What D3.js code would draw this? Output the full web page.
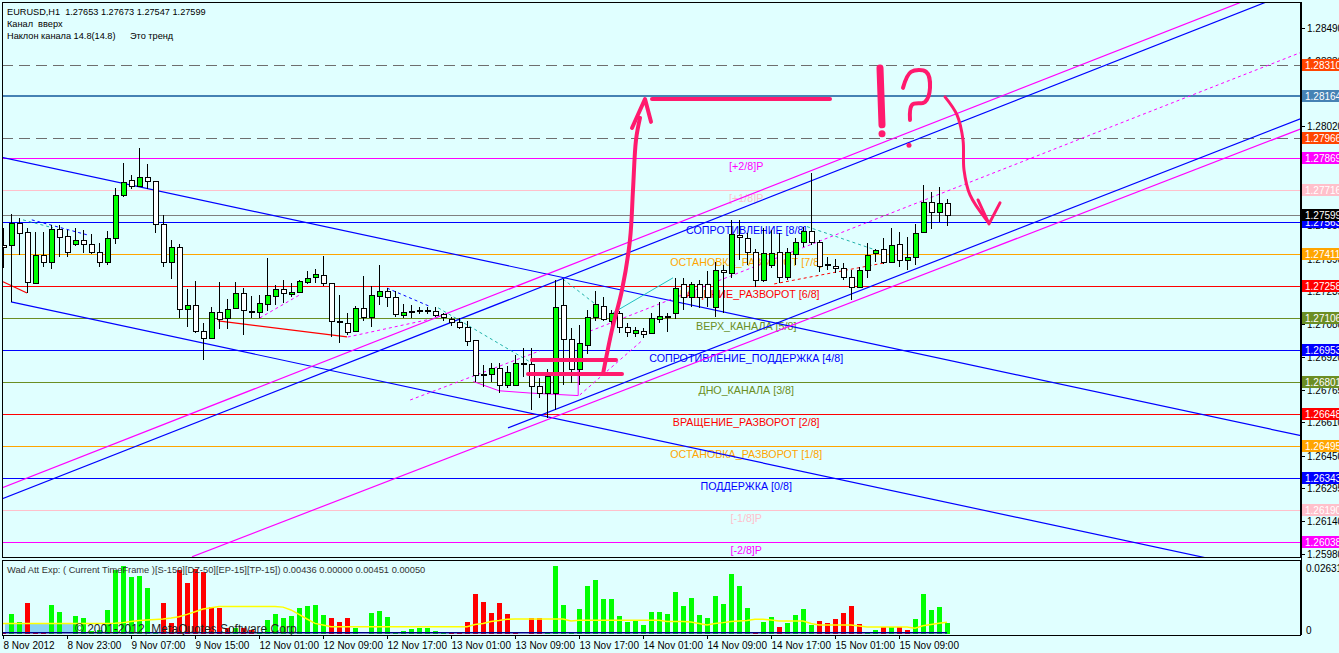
<!DOCTYPE html>
<html><head><meta charset="utf-8">
<script src="https://cdn.jsdelivr.net/npm/d3@7"></script>
<style>
body{margin:0;background:#E0FFFF;overflow:hidden}
svg{display:block;font-family:"Liberation Sans",Arial,sans-serif}
</style></head>
<body><svg id="c" width="1339" height="653"></svg>
<script>
// ---------------- DATA ----------------
const symbolInfo = "EURUSD,H1  1.27653 1.27673 1.27547 1.27599";
const infoLine2 = "Канал  вверх";
const infoLine3a = "Наклон канала 14.8(14.8)";
const infoLine3b = "Это тренд";

const opens = [1.27455,1.27452,1.27558,1.27515,1.27275,1.27407,1.27374,1.27531,1.27499,1.27458,
1.27479,1.27458,1.27420,1.27375,1.27486,1.27693,1.27764,1.27737,1.27777,1.27758,
1.27553,1.27372,1.27447,1.27149,1.27168,1.27047,1.27009,1.27134,1.27106,1.27153,
1.27225,1.27139,1.27134,1.27172,1.27213,1.27245,1.27220,1.27232,1.27280,1.27301,
1.27312,1.27272,1.27091,1.27082,1.27047,1.27153,1.27113,1.27213,1.27236,1.27206,
1.27120,1.27138,1.27143,1.27141,1.27141,1.27125,1.27102,1.27086,1.27065,1.27002,
1.26838,1.26841,1.26868,1.26788,1.26788,1.26891,1.26886,1.26784,1.26748,1.26748,
1.27169,1.27006,1.26863,1.26979,1.27111,1.27165,1.27090,1.27130,1.27063,1.27034,
1.27045,1.27034,1.27101,1.27117,1.27130,1.27268,1.27206,1.27269,1.27268,1.27161,
1.27336,1.27323,1.27502,1.27486,1.27423,1.27288,1.27360,1.27423,1.27301,1.27412,
1.27467,1.27521,1.27467,1.27364,1.27356,1.27343,1.27304,1.27256,1.27336,1.27415,
1.27434,1.27372,1.27458,1.27383,1.27396,1.27515,1.27658,1.27610,1.27653];
const highs = [1.27536,1.27602,1.27583,1.27536,1.27517,1.27518,1.27550,1.27550,1.27526,1.27536,
1.27526,1.27505,1.27463,1.27523,1.27725,1.27847,1.27788,1.27918,1.27841,1.27758,
1.27598,1.27479,1.27458,1.27245,1.27283,1.27085,1.27161,1.27277,1.27196,1.27277,
1.27249,1.27213,1.27217,1.27394,1.27264,1.27288,1.27272,1.27288,1.27331,1.27342,
1.27402,1.27272,1.27217,1.27130,1.27164,1.27307,1.27260,1.27360,1.27249,1.27237,
1.27173,1.27169,1.27161,1.27161,1.27161,1.27130,1.27113,1.27106,1.27094,1.27002,
1.26884,1.26891,1.26893,1.26879,1.26931,1.26964,1.26964,1.26822,1.26864,1.27288,
1.27292,1.27058,1.27074,1.27145,1.27233,1.27209,1.27145,1.27141,1.27085,1.27066,
1.27058,1.27130,1.27185,1.27130,1.27296,1.27296,1.27280,1.27288,1.27331,1.27375,
1.27359,1.27574,1.27574,1.27510,1.27434,1.27534,1.27526,1.27510,1.27439,1.27486,
1.27542,1.27799,1.27479,1.27399,1.27390,1.27367,1.27336,1.27349,1.27463,1.27434,
1.27486,1.27537,1.27518,1.27491,1.27553,1.27740,1.27708,1.27729,1.27673];
const lows = [1.27345,1.27183,1.27407,1.27226,1.27272,1.27350,1.27340,1.27399,1.27398,1.27450,
1.27418,1.27412,1.27349,1.27360,1.27460,1.27682,1.27720,1.27737,1.27720,1.27513,
1.27349,1.27291,1.27106,1.27066,1.27034,1.26907,1.27006,1.27053,1.27053,1.27149,
1.27027,1.27106,1.27106,1.27142,1.27169,1.27177,1.27209,1.27225,1.27268,1.27275,
1.27261,1.27015,1.26987,1.27027,1.27042,1.27090,1.27066,1.27169,1.27161,1.27113,
1.27108,1.27106,1.27126,1.27126,1.27113,1.27090,1.27069,1.27053,1.26974,1.26804,
1.26777,1.26804,1.26749,1.26774,1.26786,1.26827,1.26668,1.26726,1.26630,1.26668,
1.26788,1.26796,1.26788,1.26936,1.27090,1.27094,1.27065,1.27036,1.27015,1.27015,
1.27010,1.27031,1.27082,1.27042,1.27101,1.27145,1.27161,1.27153,1.27161,1.27113,
1.27131,1.27296,1.27384,1.27360,1.27256,1.27280,1.27345,1.27272,1.27288,1.27360,
1.27443,1.27455,1.27328,1.27336,1.27321,1.27288,1.27193,1.27249,1.27296,1.27375,
1.27364,1.27367,1.27351,1.27336,1.27360,1.27515,1.27532,1.27566,1.27547];
const closes = [1.27445,1.27561,1.27513,1.27277,1.27407,1.27374,1.27531,1.27494,1.27423,1.27479,
1.27458,1.27423,1.27375,1.27486,1.27693,1.27756,1.27737,1.27777,1.27758,1.27553,
1.27372,1.27447,1.27149,1.27168,1.27047,1.27009,1.27137,1.27102,1.27149,1.27225,
1.27145,1.27136,1.27177,1.27217,1.27245,1.27225,1.27232,1.27283,1.27296,1.27315,
1.27272,1.27093,1.27090,1.27042,1.27153,1.27113,1.27217,1.27236,1.27206,1.27126,
1.27136,1.27136,1.27141,1.27143,1.27122,1.27109,1.27086,1.27065,1.26999,1.26836,
1.26836,1.26868,1.26788,1.26850,1.26891,1.26889,1.26784,1.26748,1.26832,1.27161,
1.27006,1.26863,1.26987,1.27113,1.27174,1.27101,1.27131,1.27063,1.27042,1.27050,
1.27031,1.27106,1.27118,1.27115,1.27249,1.27206,1.27269,1.27206,1.27209,1.27336,
1.27328,1.27506,1.27491,1.27420,1.27288,1.27418,1.27418,1.27301,1.27423,1.27470,
1.27521,1.27467,1.27355,1.27361,1.27343,1.27304,1.27256,1.27336,1.27407,1.27431,
1.27372,1.27455,1.27383,1.27396,1.27510,1.27658,1.27610,1.27653,1.27599];

// Waddah Attar Explosion values per bar
const wadUp = [0,0.0077,0.0048,0,0,0,0.0112,0.0086,0,0.0070,
0.0061,0.0010,0.0015,0.0093,0.0248,0.0262,0.0222,0.0226,0.0179,0.0007,
0,0,0,0,0,0,0,0,0,0.0022,
0,0,0.0005,0.0054,0.0077,0.0061,0.0070,0.0102,0.0108,0.0112,
0.0074,0,0,0,0.0024,0,0.0082,0.0089,0.0067,0.0003,
0.0012,0.0019,0.0024,0.0024,0.0012,0.0005,0,0,0,0,
0,0,0,0,0,0,0,0,0.0003,0.0263,
0.0112,0.0003,0.0097,0.0186,0.0209,0.0137,0.0137,0.0070,0.0048,0.0052,
0.0035,0.0085,0.0085,0.0077,0.0163,0.0108,0.0139,0.0074,0.0062,0.0147,
0.0116,0.0232,0.0186,0.0101,0,0.0046,0.0066,0,0.0043,0.0074,
0.0097,0.0035,0,0,0,0,0,0,0.0008,0.0016,
0,0.0027,0,0,0.0058,0.0155,0.0093,0.0105,0.00436];
const wadDown = [0.0004,0,0,0.0121,0.0003,0.0009,0,0,0,0,
0,0,0,0,0,0,0,0,0,0,
0.0121,0.0041,0.0248,0.0199,0.0252,0.0239,0.0103,0.0099,0.0022,0,
0.0022,0.0017,0,0,0,0,0,0,0,0,
0,0.0061,0.0048,0.0063,0,0,0,0,0,0,
0,0,0,0,0,0,0.0003,0.0005,0.0048,0.0155,
0.0125,0.0083,0.0121,0.0077,0.0003,0,0.0063,0.0063,0,0,
0,0,0,0,0,0,0,0,0,0,
0,0,0,0,0,0,0,0,0,0,
0,0,0,0,0.0008,0,0,0.0027,0,0,
0,0,0.0050,0.0043,0.0058,0.0081,0.0108,0.0039,0,0,
0.0027,0,0.0027,0.0016,0,0,0,0,0];
const wadExplosion = [0.0041,0.0041,0.0041,0.0041,0.0041,0.0041,0.0041,0.0041,0.0041,0.0041,
0.0041,0.0041,0.0041,0.0041,0.0042,0.0044,0.0048,0.0052,0.0054,0.0056,
0.0058,0.0062,0.0067,0.0076,0.0086,0.0097,0.0102,0.0106,0.0106,0.0106,
0.0106,0.0106,0.0106,0.0106,0.0106,0.0104,0.0093,0.0076,0.0058,0.0041,
0.0035,0.0028,0.0028,0.0028,0.0028,0.0028,0.0028,0.0028,0.0028,0.0028,
0.0028,0.0028,0.0028,0.0028,0.0028,0.0028,0.0028,0.0028,0.0028,0.0037,
0.0041,0.0048,0.0052,0.0057,0.0058,0.0058,0.0058,0.0058,0.0058,0.0058,
0.0058,0.0050,0.0053,0.0053,0.0053,0.0053,0.0053,0.0053,0.0053,0.0053,
0.0053,0.0053,0.0053,0.0048,0.0048,0.0048,0.0046,0.0041,0.0035,0.0041,
0.0044,0.0048,0.0050,0.0052,0.0057,0.0057,0.0054,0.0050,0.0050,0.0050,
0.0050,0.0041,0.0035,0.0035,0.0035,0.0035,0.0035,0.0031,0.0027,0.0027,
0.0027,0.0027,0.0027,0.0027,0.0022,0.0032,0.0037,0.0042,0.00451];
const wadDeadZone = 0.0005;
const wadTitle = "Wad Att Exp: ( Current TimeFrame )[S-150][DZ-50][EP-15][TP-15]) 0.00436 0.00000 0.00451 0.00050";
const wadMax = 0.02631;

// Murrey math levels
const mmLevels = [1.27869,1.27716,1.27563,1.27411,1.27258,1.27106,1.26953,1.26801,1.26648,1.26495,1.26343,1.26190,1.26038];
const mmNames = ["[+2/8]P","[+1/8]P","СОПРОТИВЛЕНИЕ [8/8]","ОСТАНОВКА_РАЗВОРОТ [7/8]","ВРАЩЕНИЕ_РАЗВОРОТ [6/8]",
"ВЕРХ_КАНАЛА [5/8]","СОПРОТИВЛЕНИЕ_ПОДДЕРЖКА [4/8]","ДНО_КАНАЛА [3/8]","ВРАЩЕНИЕ_РАЗВОРОТ [2/8]",
"ОСТАНОВКА_РАЗВОРОТ [1/8]","ПОДДЕРЖКА [0/8]","[-1/8]P","[-2/8]P"];
const dashedLevels = [1.28310, 1.27966];
const steelLevel = 1.28164;
const bidPrice = 1.27599;

const priceTicks = [1.28490,1.28330,1.28175,1.28020,1.27860,1.27705,1.27550,1.27390,1.27235,1.27080,
1.26920,1.26765,1.26610,1.26450,1.26295,1.26140,1.25980];
const timeTickBars = [0,8,16,24,32,40,48,56,64,72,80,88,96,104,112];
const timeLabels = ["8 Nov 2012","8 Nov 23:00","9 Nov 07:00","9 Nov 15:00","12 Nov 01:00","12 Nov 09:00",
"12 Nov 17:00","13 Nov 01:00","13 Nov 09:00","13 Nov 17:00","14 Nov 01:00","14 Nov 09:00",
"14 Nov 17:00","15 Nov 01:00","15 Nov 09:00"];

// trend / channel lines as [bar, price] points
const descUpper = [[-0.375,1.27874],[162.25,1.26546]];
const descLower = [[1,1.27183],[162.25,1.25867]];
const ascUpperMag = [[-0.375,1.26294],[162.25,1.28723]];
const ascUpperBlue = [[-0.375,1.26241],[162.25,1.28677]];
const ascLowerBlue = [[63.125,1.26583],[162.25,1.28057]];
const ascLowerMag = [[23.625,1.25969],[162.25,1.28008]];
const ascMidDotted = [[73.375,1.27044],[162.25,1.28372]];
const redSegs = [[[0,1.27279],[3,1.27226]],[[26.9,1.27093],[43,1.27017]]];
const magDotSegs = [[[32.1,1.27107],[37.1,1.27217]],[[43.1,1.27016],[53.4,1.27101]],
  [[50.9,1.26716],[67.1,1.26950]],[[72.1,1.26740],[80,1.27003]]];
const cyanDotSegs = [[[2.5,1.27574],[6.25,1.27536]],[[54.4,1.27155],[65.9,1.26897]],
  [[70,1.27292],[75.5,1.27130]],[[100.5,1.27542],[108.8,1.27434]]];
const cyanSolidSegs = [[[76.25,1.27131],[83.75,1.27298]]];
const blueDotSegs = [[[3.6,1.27574],[10.5,1.27503]],[[48,1.27249],[53.4,1.27161]]];
const redDotSegs = [[[96.4,1.27269],[110,1.27368]]];
const magCurve = [[58.8,1.26804],[62,1.26760],[65.9,1.26749],[71.9,1.26737],[71.9,1.26870]];

// hand drawn annotation strokes ([bar, price])
const annoBarHigh = [[66.125,1.26907],[76.625,1.26907]];
const annoBarLow = [[65.625,1.26840],[77.375,1.26840]];
const annoShaft = [[75,1.26840],[76.125,1.27050],[77.375,1.27240],[78.375,1.27479],[78.75,1.27717],[79.125,1.27955],[79.625,1.28060]];
const annoHead = [[78.625,1.28012],[80.25,1.28150],[81,1.28041]];
const annoTop = [[81.125,1.28150],[103.375,1.28150]];
const annoBang = [[109.625,1.28298],[109.875,1.28027]];
const annoBangDot = [109.875,1.27984];
const annoQuestion = [[112.5,1.28203],[113.5,1.28279],[115.4,1.28279],[115.875,1.28203],[115.25,1.28136],[113.625,1.28122],[113.375,1.28050]];
const annoQuestionDot = [113.25,1.27929];
const annoCurve = [[117.75,1.28160],[119.25,1.28074],[120,1.27955],[120.125,1.27812],[120.875,1.27693],[123.125,1.27564]];
const annoCurveHead = [[121.875,1.27669],[123.25,1.27555],[124.625,1.27655]];

// ---------------- STYLES ----------------
const BG = "#E0FFFF";
const mmColors = ["#FF00FF","#FFC0CB","#0000FF","#FFA500","#FF0000","#6B8E23","#0000FF","#6B8E23","#FF0000","#FFA500","#0000FF","#FFC0CB","#FF00FF"];
const ANNO = "#FF1A6E";

// ---------------- LAYOUT ----------------
const svg = d3.select("#c");
const W = 1339, H = 653;
const plotL = 2, plotR = 1301, mainT = 2, mainB = 557, indT = 560, indB = 635;

svg.append("rect").attr("width",W).attr("height",H).attr("fill",BG);

const x = d3.scaleLinear().domain([0,118]).range([3,947]);
const y = d3.scaleLinear().domain([1.25968,1.28612]).range([mainB,mainT]);
const yi = d3.scaleLinear().domain([0,wadMax]).range([634,566]);
const bars = d3.range(opens.length);

const defs = svg.append("defs");
defs.append("clipPath").attr("id","mainClip").append("rect")
  .attr("x",plotL).attr("y",mainT).attr("width",plotR-plotL).attr("height",mainB-mainT);
defs.append("clipPath").attr("id","indClip").append("rect")
  .attr("x",plotL).attr("y",indT).attr("width",plotR-plotL).attr("height",indB-indT);

const main = svg.append("g").attr("clip-path","url(#mainClip)");
const line = d3.line().x(d=>x(d[0])).y(d=>y(d[1]));

// info text
const info = main.append("g").attr("font-size","9.2px").attr("fill","#000");
info.append("text").attr("x",7).attr("y",15).text(symbolInfo).attr("xml:space","preserve");
info.append("text").attr("x",7).attr("y",27).text(infoLine2).attr("xml:space","preserve");
info.append("text").attr("x",7).attr("y",39).text(infoLine3a);
info.append("text").attr("x",130).attr("y",39).text(infoLine3b);

// horizontal levels
const hl = main.append("g").attr("shape-rendering","crispEdges");
dashedLevels.forEach(v=>{
  hl.append("line").attr("x1",plotL).attr("x2",plotR).attr("y1",Math.round(y(v))+0.5).attr("y2",Math.round(y(v))+0.5)
    .attr("stroke","#6E6E6E").attr("stroke-dasharray","11,6");
});
hl.append("line").attr("x1",plotL).attr("x2",plotR).attr("y1",Math.round(y(steelLevel))).attr("y2",Math.round(y(steelLevel)))
  .attr("stroke","#4682B4").attr("stroke-width",2);
mmLevels.forEach((v,i)=>{
  hl.append("line").attr("x1",plotL).attr("x2",plotR).attr("y1",Math.round(y(v))+0.5).attr("y2",Math.round(y(v))+0.5)
    .attr("stroke",mmColors[i]);
});
hl.append("line").attr("x1",plotL).attr("x2",plotR).attr("y1",Math.round(y(bidPrice))+0.5).attr("y2",Math.round(y(bidPrice))+0.5)
  .attr("stroke","#808080");

// level names
const lblBar = 92.9;
mmLevels.forEach((v,i)=>{
  main.append("text").attr("x",x(lblBar)).attr("y",y(v)+12).attr("text-anchor","middle")
    .attr("font-size","10.7px").attr("fill",mmColors[i]).text(mmNames[i]);
});

// channel lines
const ch = main.append("g").attr("fill","none");
[[descUpper,"#0000FF"],[descLower,"#0000FF"],[ascUpperMag,"#FF00FF"],[ascUpperBlue,"#0000FF"],
 [ascLowerBlue,"#0000FF"],[ascLowerMag,"#FF00FF"]].forEach(([d,c])=>{
  ch.append("path").attr("d",line(d)).attr("stroke",c).attr("stroke-width",1.2);
});
ch.append("path").attr("d",line(ascMidDotted)).attr("stroke","#FF00FF").attr("stroke-dasharray","3,3");
redSegs.forEach(d=>ch.append("path").attr("d",line(d)).attr("stroke","#FF0000").attr("stroke-width",1.2));
magDotSegs.forEach(d=>ch.append("path").attr("d",line(d)).attr("stroke","#FF00FF").attr("stroke-dasharray","3,3"));
cyanDotSegs.forEach(d=>ch.append("path").attr("d",line(d)).attr("stroke","#20B2AA").attr("stroke-dasharray","3,3"));
cyanSolidSegs.forEach(d=>ch.append("path").attr("d",line(d)).attr("stroke","#20C0C0"));
blueDotSegs.forEach(d=>ch.append("path").attr("d",line(d)).attr("stroke","#0000FF").attr("stroke-dasharray","3,3"));
redDotSegs.forEach(d=>ch.append("path").attr("d",line(d)).attr("stroke","#FF0000").attr("stroke-dasharray","3,3"));
ch.append("path").attr("d",line(magCurve)).attr("stroke","#FF00FF");

// candles
const cg = main.append("g").attr("shape-rendering","crispEdges");
bars.forEach(i=>{
  const cx = Math.round(x(i))+0.5;
  cg.append("line").attr("x1",cx).attr("x2",cx).attr("y1",y(highs[i])).attr("y2",y(lows[i])).attr("stroke","#000");
  const yo = y(opens[i]), yc = y(closes[i]);
  const top = Math.round(Math.min(yo,yc)), bot = Math.round(Math.max(yo,yc));
  if (bot - top < 2) {
    cg.append("line").attr("x1",cx-3).attr("x2",cx+3).attr("y1",top+0.5).attr("y2",top+0.5).attr("stroke","#000").attr("stroke-width",2);
  } else {
    cg.append("rect").attr("x",cx-2.5).attr("y",top+0.5).attr("width",5).attr("height",bot-top)
      .attr("fill", closes[i] > opens[i] ? "#00FF00" : "#FFFFFF").attr("stroke","#000");
  }
});

// annotation (hand drawing)
const an = main.append("g").attr("fill","none").attr("stroke",ANNO).attr("stroke-linecap","round").attr("stroke-linejoin","round");
const cline = d3.line().curve(d3.curveCatmullRom).x(d=>x(d[0])).y(d=>y(d[1]));
an.append("path").attr("d",line(annoBarHigh)).attr("stroke-width",4);
an.append("path").attr("d",line(annoBarLow)).attr("stroke-width",4);
an.append("path").attr("d",cline(annoShaft)).attr("stroke-width",4);
an.append("path").attr("d",line(annoHead)).attr("stroke-width",4);
an.append("path").attr("d",line(annoTop)).attr("stroke-width",4);
an.append("path").attr("d",line(annoBang)).attr("stroke-width",7);
an.append("circle").attr("cx",x(annoBangDot[0])).attr("cy",y(annoBangDot[1])).attr("r",3.5).attr("fill",ANNO).attr("stroke","none");
an.append("path").attr("d",cline(annoQuestion)).attr("stroke-width",4);
an.append("circle").attr("cx",x(annoQuestionDot[0])).attr("cy",y(annoQuestionDot[1])).attr("r",2.5).attr("fill",ANNO).attr("stroke","none");
an.append("path").attr("d",cline(annoCurve)).attr("stroke-width",3);
an.append("path").attr("d",line(annoCurveHead)).attr("stroke-width",3);

// frames
svg.append("rect").attr("x",plotL+0.5).attr("y",mainT+0.5).attr("width",plotR-plotL-1).attr("height",mainB-mainT)
  .attr("fill","none").attr("stroke","#000").attr("shape-rendering","crispEdges");

// right price axis
const ax = svg.append("g").attr("font-size","10px");
priceTicks.forEach(v=>{
  const yy = Math.round(y(v))+0.5;
  ax.append("line").attr("x1",plotR).attr("x2",plotR+4).attr("y1",yy).attr("y2",yy).attr("stroke","#000").attr("shape-rendering","crispEdges");
  ax.append("text").attr("x",plotR+6).attr("y",yy).attr("dy","0.35em").attr("fill","#000").text(v.toFixed(5));
});
function box(v,fill){
  const yy = Math.round(y(v));
  ax.append("rect").attr("x",plotR+1).attr("y",yy-6).attr("width",40).attr("height",12).attr("fill",fill);
  ax.append("text").attr("x",plotR+4).attr("y",yy).attr("dy","0.36em").attr("fill","#fff").text(v.toFixed(5));
}
box(dashedLevels[0],"#FF4500");
box(steelLevel,"#4682B4");
box(dashedLevels[1],"#FF4500");
mmLevels.forEach((v,i)=>box(v,mmColors[i]));
box(bidPrice,"#000000");

// ---------------- INDICATOR ----------------
const ind = svg.append("g").attr("clip-path","url(#indClip)");
svg.append("rect").attr("x",plotL+0.5).attr("y",indT+0.5).attr("width",plotR-plotL-1).attr("height",indB-indT)
  .attr("fill","none").attr("stroke","#000").attr("shape-rendering","crispEdges");
ind.append("rect").attr("x",5).attr("y",624).attr("width",70).attr("height",9).attr("fill","#87D3F5");
const hg = ind.append("g").attr("shape-rendering","crispEdges");
bars.forEach(i=>{
  const cx = Math.round(x(i));
  if (wadUp[i] > 0) hg.append("rect").attr("x",cx-2).attr("width",5).attr("y",yi(wadUp[i])).attr("height",yi(0)-yi(wadUp[i])).attr("fill","#00FF00");
  if (wadDown[i] > 0) hg.append("rect").attr("x",cx-2).attr("width",5).attr("y",yi(wadDown[i])).attr("height",yi(0)-yi(wadDown[i])).attr("fill","#FF0000");
});
ind.append("path").attr("d",d3.line().x(i=>x(i)).y(i=>yi(wadExplosion[i]))(bars)).attr("fill","none").attr("stroke","#FFFF00").attr("stroke-width",1.5);
ind.append("line").attr("x1",x(0)).attr("x2",x(118)).attr("y1",yi(wadDeadZone)).attr("y2",yi(wadDeadZone)).attr("stroke","#00008B").attr("stroke-width",1.5);
ind.append("text").attr("x",75).attr("y",633).attr("font-size","12px").attr("fill","#222").text("© 2001-2012, MetaQuotes Software Corp.");
ind.append("text").attr("x",7).attr("y",573).attr("font-size","9.3px").attr("fill","#333").text(wadTitle);

ax.append("text").attr("x",plotR+5).attr("y",568).attr("dy","0.35em").attr("fill","#000").text(wadMax.toFixed(5));
ax.append("text").attr("x",plotR+5).attr("y",630).attr("dy","0.35em").attr("fill","#000").text("0");

// vertical axis line
svg.append("line").attr("x1",plotR+0.5).attr("x2",plotR+0.5).attr("y1",mainT).attr("y2",indB).attr("stroke","#000");

// time axis
const tx = svg.append("g").attr("font-size","10px");
timeTickBars.forEach((b,k)=>{
  const xx = Math.round(x(b))+0.5;
  tx.append("line").attr("x1",xx).attr("x2",xx).attr("y1",indB).attr("y2",indB+4).attr("stroke","#000");
  tx.append("text").attr("x",xx).attr("y",649).attr("fill","#000").text(timeLabels[k]);
});
</script></body></html>
